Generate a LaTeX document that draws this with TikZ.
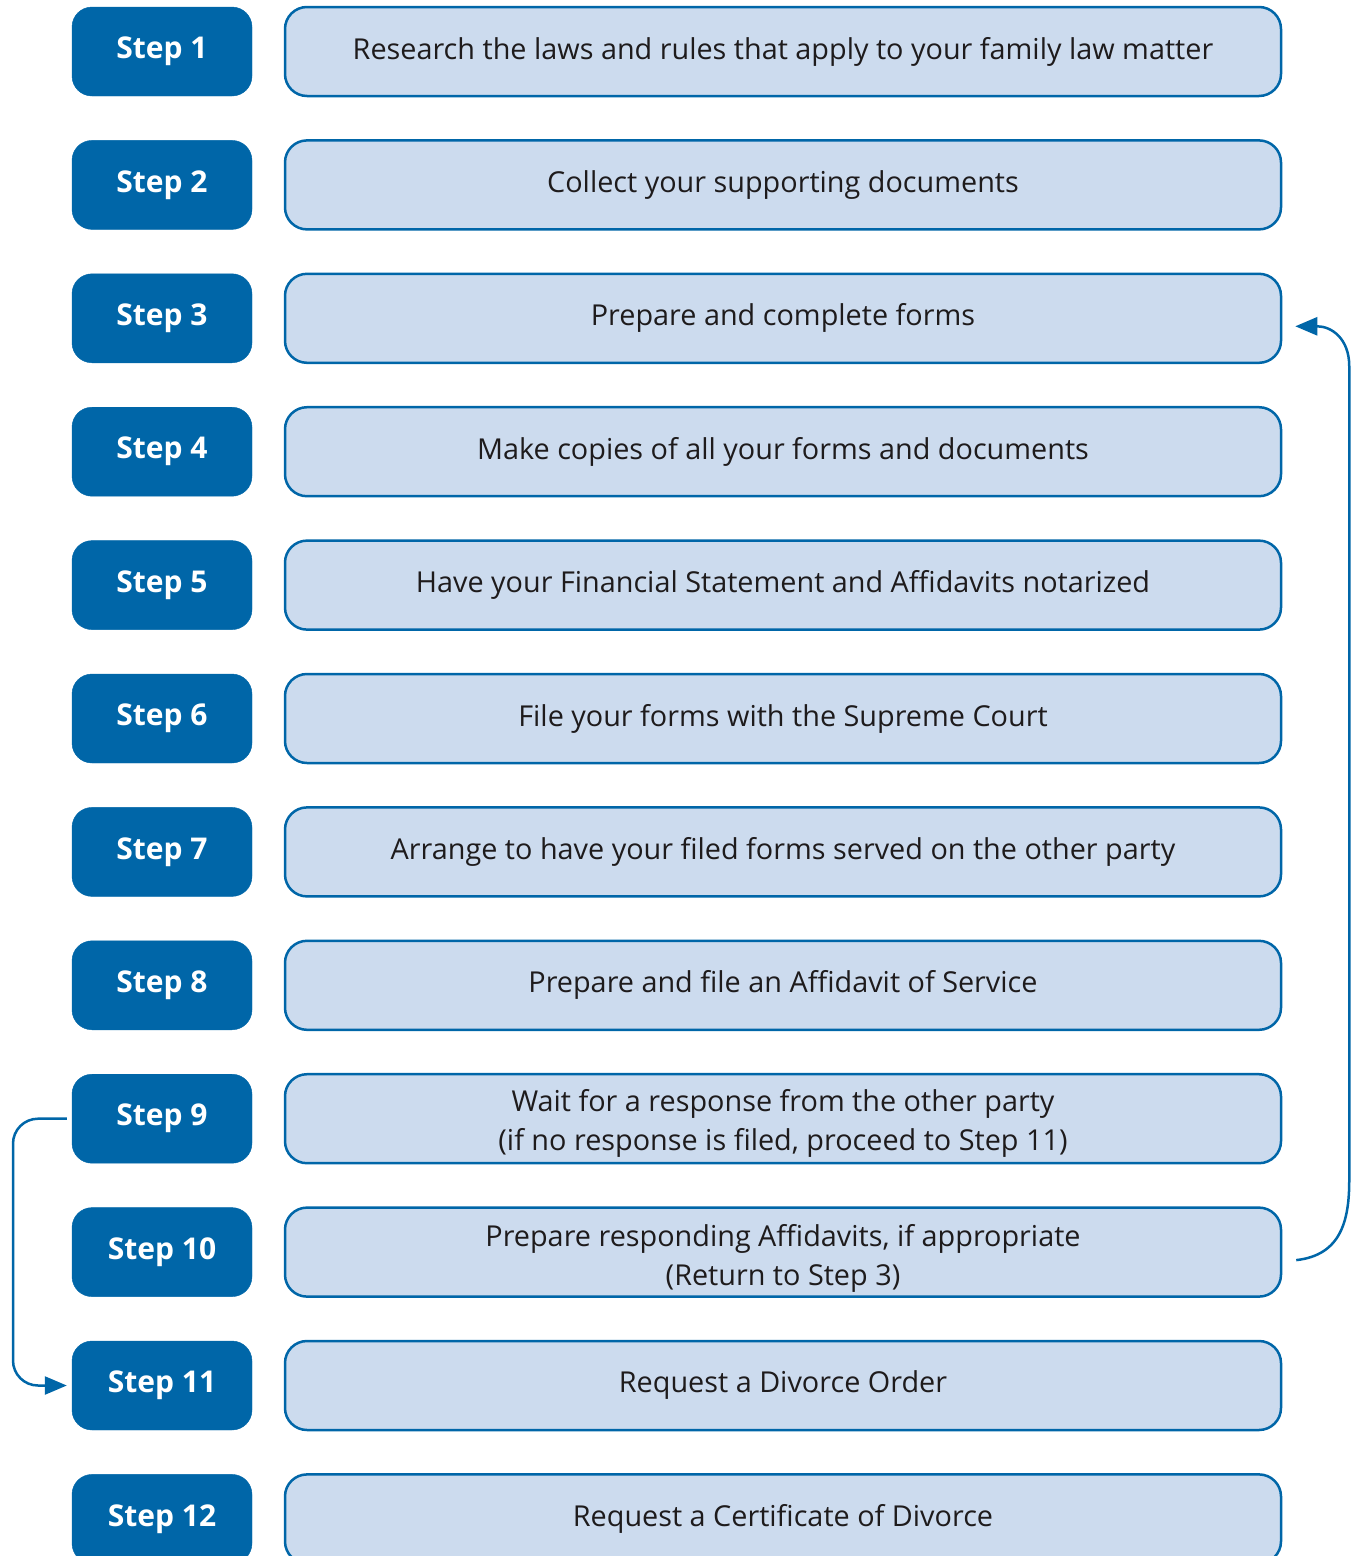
\documentclass[tikz,border=0pt]{standalone}
\usepackage{fontspec}
\setmainfont{Open Sans}
\usetikzlibrary{arrows.meta,calc}
\definecolor{stepblue}{RGB}{0,102,168}
\definecolor{lightblue}{RGB}{204,219,238}
\definecolor{txt}{RGB}{30,27,28}
\begin{document}
\begin{tikzpicture}[x=1pt,y=1pt,
  stepbox/.style={fill=stepblue,draw=stepblue,rounded corners=20pt,minimum width=180pt,minimum height=89pt,inner sep=0pt,text=white,font=\fontsize{30}{34}\selectfont\bfseries},
  descbox/.style={fill=lightblue,draw=stepblue,line width=2.5pt,rounded corners=22pt,minimum width=996pt,minimum height=89pt,inner sep=0pt,text=txt,align=center,font=\fontsize{28.8}{39}\selectfont},
  conn/.style={draw=stepblue,line width=2.5pt,-{Triangle[length=22pt,width=18pt]}}]
\useasboundingbox (0,0) rectangle (1354,-1556);
\foreach \i/\t in {1/{Research the laws and rules that apply to your family law matter},
  2/{Collect your supporting documents},
  3/{Prepare and complete forms},
  4/{Make copies of all your forms and documents},
  5/{Have your Financial Statement and Affidavits notarized},
  6/{File your forms with the Supreme Court},
  7/{Arrange to have your filed forms served on the other party},
  8/{Prepare and file an Affidavit of Service},
  9/{\rule{0pt}{32pt}Wait for a response from the other party\\(if no response is filed, proceed to Step 11)},
  10/{\rule{0pt}{34pt}Prepare responding Affidavits, if appropriate\\(Return to Step 3)},
  11/{Request a Divorce Order},
  12/{Request a Certificate of Divorce}}{
  \node[stepbox] (s\i) at (162,{-51.5-(\i-1)*133.4}) {Step \i};
  \node[descbox] (r\i) at (783,{-51.5-(\i-1)*133.4}) {\t};
}
\coordinate (lc) at (13,-1250);
\draw[conn,rounded corners=25pt] ([xshift=-5pt]s9.west) -| (lc) |- ([xshift=-5pt]s11.west);
\coordinate (rs) at ($(r10.east)+(14,-8)$);
\coordinate (rt) at ($(r3.east)+(13,-8)$);
\draw[conn] (rs) .. controls +(45,5) and +(0,-40) .. ++(53,80) -- ($(rt)+(54,-40)$) .. controls +(0,28) and +(14,0) .. ($(rt)+(22,0)$) -- (rt);
\end{tikzpicture}
\end{document}
